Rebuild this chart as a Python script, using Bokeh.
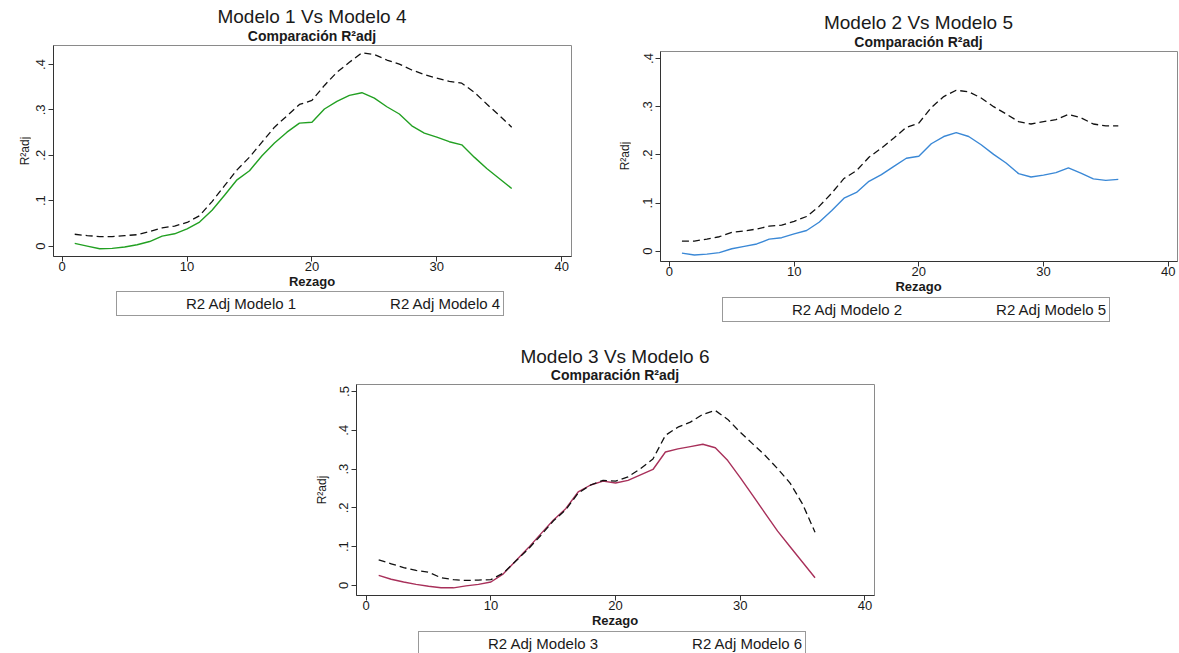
from bokeh.plotting import figure
from bokeh.models import Range1d, FixedTicker, Legend, LegendItem, Spacer, Div
from bokeh.layouts import row, column
from bokeh.embed import file_html
from bokeh.resources import INLINE

# ---------------- data ----------------
rezago = list(range(1, 37))

m1 = [0.006, 0.000, -0.006, -0.005, -0.002, 0.003, 0.010, 0.022, 0.027, 0.038,
      0.053, 0.079, 0.112, 0.146, 0.166, 0.199, 0.227, 0.251, 0.271, 0.273,
      0.302, 0.319, 0.332, 0.338, 0.326, 0.307, 0.291, 0.265, 0.249, 0.240,
      0.230, 0.223, 0.196, 0.171, 0.149, 0.127]
m4 = [0.026, 0.023, 0.021, 0.021, 0.023, 0.025, 0.032, 0.040, 0.044, 0.052,
      0.067, 0.098, 0.133, 0.168, 0.196, 0.229, 0.262, 0.287, 0.312, 0.321,
      0.354, 0.383, 0.405, 0.426, 0.422, 0.410, 0.401, 0.388, 0.378, 0.370,
      0.363, 0.359, 0.339, 0.313, 0.288, 0.262]

m2 = [-0.004, -0.008, -0.006, -0.003, 0.005, 0.010, 0.015, 0.025, 0.028, 0.036,
      0.043, 0.060, 0.084, 0.110, 0.122, 0.145, 0.159, 0.176, 0.193, 0.197,
      0.223, 0.238, 0.246, 0.238, 0.221, 0.201, 0.183, 0.161, 0.154, 0.158,
      0.163, 0.173, 0.162, 0.150, 0.147, 0.149]
m5 = [0.021, 0.021, 0.025, 0.030, 0.039, 0.042, 0.046, 0.052, 0.054, 0.062,
      0.072, 0.093, 0.120, 0.151, 0.167, 0.195, 0.214, 0.235, 0.257, 0.266,
      0.298, 0.321, 0.334, 0.331, 0.318, 0.300, 0.285, 0.269, 0.264, 0.269,
      0.273, 0.284, 0.277, 0.264, 0.260, 0.260]

m3 = [0.026, 0.016, 0.009, 0.003, -0.002, -0.006, -0.006, -0.001, 0.003, 0.009,
      0.030, 0.064, 0.097, 0.133, 0.168, 0.198, 0.241, 0.259, 0.269, 0.264,
      0.271, 0.285, 0.299, 0.344, 0.352, 0.358, 0.364, 0.355, 0.322, 0.278,
      0.232, 0.186, 0.140, 0.100, 0.060, 0.020]
m6 = [0.066, 0.056, 0.046, 0.039, 0.034, 0.020, 0.015, 0.013, 0.014, 0.015,
      0.032, 0.063, 0.094, 0.129, 0.166, 0.195, 0.238, 0.259, 0.271, 0.269,
      0.280, 0.301, 0.326, 0.387, 0.408, 0.421, 0.441, 0.451, 0.428, 0.395,
      0.365, 0.335, 0.301, 0.264, 0.210, 0.137]

x_ticks = [0, 10, 20, 30, 40]
y_ticks_4 = [0, 0.1, 0.2, 0.3, 0.4]
y_ticks_5 = [0, 0.1, 0.2, 0.3, 0.4, 0.5]
y_tick_labels = {0: "0", 0.1: ".1", 0.2: ".2", 0.3: ".3", 0.4: ".4", 0.5: ".5"}

titles = ["Modelo 1 Vs Modelo 4", "Modelo 2 Vs Modelo 5", "Modelo 3 Vs Modelo 6"]
subtitle = "Comparación R²adj"
x_label = "Rezago"
y_label = "R²adj"
names = [("R2 Adj Modelo 1", "R2 Adj Modelo 4"),
         ("R2 Adj Modelo 2", "R2 Adj Modelo 5"),
         ("R2 Adj Modelo 3", "R2 Adj Modelo 6")]
colors = ["#22a022", "#3a88d6", "#a8305a"]

FONT = "Liberation Sans"
FF = "'Liberation Sans', Arial, sans-serif"
TXT = "#1a1a1a"


def title_div(w, h, fl, fw, main, t_main, t_sub):
    html = (f'<div style="position:relative;width:{w}px;height:{h}px;font-family:{FF};color:{TXT}">'
            f'<div style="position:absolute;left:{fl}px;width:{fw}px;top:{t_main}px;'
            f'text-align:center;font-size:19px;line-height:22px;white-space:nowrap">{main}</div>'
            f'<div style="position:absolute;left:{fl}px;width:{fw}px;top:{t_sub}px;'
            f'text-align:center;font-size:14px;font-weight:bold;line-height:16px;'
            f'white-space:nowrap">{subtitle}</div></div>')
    return Div(text=html, width=w, height=h, margin=0, styles={"overflow": "visible"})


def ylab_div(h, cx, cy):
    html = (f'<div style="position:relative;width:30px;height:{h}px">'
            f'<div style="position:absolute;left:{cx}px;top:{cy}px;'
            f'transform:translate(-50%,-50%) rotate(-90deg);white-space:nowrap;'
            f'font-family:{FF};font-size:12px;line-height:14px;color:{TXT}">{y_label}</div></div>')
    return Div(text=html, width=30, height=h, margin=0, styles={"overflow": "visible"})


def rez_div(w, fl, fw):
    html = (f'<div style="position:relative;width:{w}px;height:14px">'
            f'<div style="position:absolute;left:{fl}px;width:{fw}px;top:0px;text-align:center;'
            f'font-family:{FF};font-size:13px;font-weight:bold;line-height:12px;color:{TXT};'
            f'white-space:nowrap">{x_label}</div></div>')
    return Div(text=html, width=w, height=14, margin=0, styles={"overflow": "visible"})


def main_fig(width, height, bl, br, xr, yr, yticks, solid, dashed, col):
    p = figure(width=width, height=height, output_backend="svg", toolbar_location=None,
               x_range=Range1d(*xr), y_range=Range1d(*yr),
               min_border_left=bl, min_border_right=br, min_border_top=1,
               min_border_bottom=20, background_fill_color="white",
               border_fill_color="white")
    p.outline_line_color = "#8a8a8a"
    p.outline_line_width = 1
    p.xgrid.visible = False
    p.ygrid.visible = False
    for ax in (p.xaxis[0], p.yaxis[0]):
        ax.axis_line_color = "#333333"
        ax.major_tick_line_color = "#333333"
        ax.major_tick_out = 5
        ax.major_tick_in = 0
        ax.minor_tick_line_color = None
        ax.major_label_text_font = FONT
        ax.major_label_text_font_size = "13px"
        ax.major_label_text_color = TXT
    p.xaxis.ticker = FixedTicker(ticks=x_ticks)
    p.xaxis.major_label_standoff = 0
    p.yaxis.ticker = FixedTicker(ticks=yticks)
    p.yaxis.major_label_overrides = {t: y_tick_labels[t] for t in yticks}
    p.yaxis.major_label_orientation = "vertical"
    p.yaxis.major_label_standoff = 3
    p.line(rezago, solid, line_color=col, line_width=1.4)
    p.line(rezago, dashed, line_color="#111111", line_width=1.3, line_dash="7 4")
    return p


def legend_fig(w, h, loc, labs, col):
    lf = figure(width=w, height=h, output_backend="svg", toolbar_location=None,
                x_axis_type=None, y_axis_type=None,
                x_range=Range1d(0, 1), y_range=Range1d(0, 1), min_border=0,
                background_fill_color="white", border_fill_color="white")
    lf.outline_line_color = None
    r1 = lf.line(x=[], y=[], line_color=col, line_width=1.4)
    r2 = lf.line(x=[], y=[], line_color="#111111", line_width=1.3, line_dash="7 4")
    leg = Legend(items=[LegendItem(label=labs[0], renderers=[r1]),
                        LegendItem(label=labs[1], renderers=[r2])],
                 orientation="horizontal", location=loc,
                 border_line_color="#333333", border_line_width=1,
                 background_fill_color="white", background_fill_alpha=1,
                 label_text_font=FONT, label_text_font_size="15px",
                 label_text_color=TXT, glyph_width=54, glyph_height=14,
                 label_height=15, label_standoff=12, spacing=28,
                 padding=3, margin=0)
    lf.add_layout(leg)
    return lf


f1 = main_fig(570, 232, 23, 29, (-0.70, 40.79), (-0.023, 0.442), y_ticks_4, m1, m4, colors[0])
f2 = main_fig(549, 231, 30, 2, (-0.72, 40.75), (-0.0214, 0.4145), y_ticks_4, m2, m5, colors[1])
f3 = main_fig(564, 232, 26, 20, (-0.78, 40.77), (-0.0258, 0.518), y_ticks_5, m3, m6, colors[2])

col1 = column(title_div(600, 44, 53, 518, titles[0], 6, 28),
              row(ylab_div(232, 25, 106.5), f1),
              rez_div(600, 53, 518),
              legend_fig(600, 45, (116, 19), names[0], colors[0]))
col2 = column(title_div(579, 50, 60, 517, titles[1], 12, 34),
              row(ylab_div(231, 25, 106), f2),
              rez_div(579, 60, 517),
              legend_fig(579, 40, (122, 13), names[1], colors[1]))
col3 = column(title_div(594, 48, 56, 518, titles[2], 11, 32),
              row(ylab_div(232, 22, 106.5), f3),
              rez_div(594, 56, 518),
              legend_fig(594, 24, (118, -3), names[2], colors[2]))

layout = column(row(col1, col2), row(Spacer(width=300, height=318), col3))

with open("out.html", "w", encoding="utf-8") as f:
    f.write(file_html(layout, INLINE))
